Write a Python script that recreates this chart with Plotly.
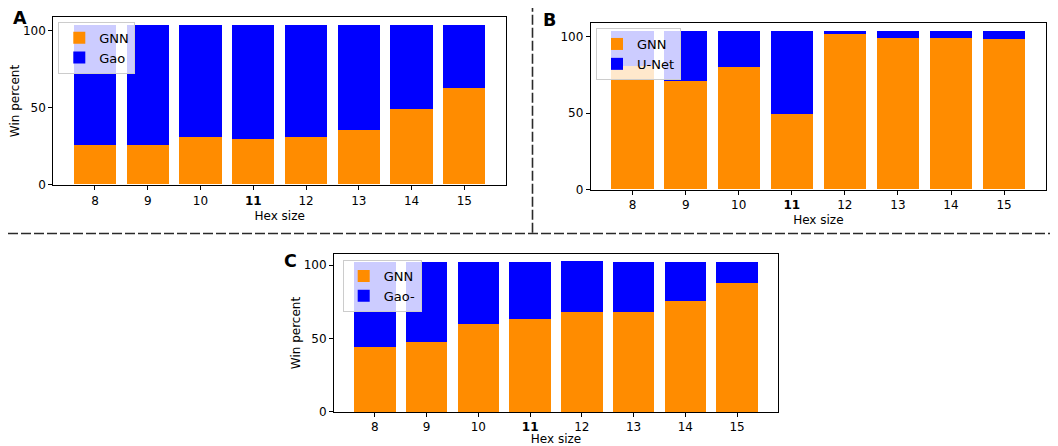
import plotly.graph_objects as go

hex_sizes = [8, 9, 10, 11, 12, 13, 14, 15]
tick_labels = ["8", "9", "10", "<b>11</b>", "12", "13", "14", "15"]

a_gnn = [25.4, 25.4, 30.9, 29.4, 30.9, 35.2, 48.9, 62.6]
a_gao = [78.5, 78.5, 73.0, 74.5, 73.0, 68.7, 55.0, 41.3]

b_gnn = [80.7, 70.9, 80.1, 49.3, 101.9, 99.1, 99.1, 98.4]
b_unet = [23.1, 32.9, 23.7, 54.5, 1.9, 4.7, 4.7, 5.4]

c_gnn = [44.1, 47.5, 59.8, 63.2, 67.9, 67.9, 75.5, 87.7]
c_gao = [57.9, 54.5, 42.2, 38.8, 34.8, 34.1, 26.5, 14.3]

ORANGE = "#FF8C00"
BLUE = "#0000FF"
FONT = "DejaVu Sans"

# The page body has an 8px margin, so the figure is sized to the visible
# area and page-pixel positions are converted to figure fractions.
OX, OY = 8, 8
W, H = 1058 - OX, 446 - OY


def fx(px):
    return (px - OX) / W


def fy(py):
    return 1 - (py - OY) / H


fig = go.Figure()

panels = [
    ("", a_gnn, a_gao, "Gao", "legend", (53.3, 506), (16.7, 185.3), [-0.6, 109.1], "Win percent", (58.3, 21.7)),
    ("2", b_gnn, b_unet, "U-Net", "legend2", (590.7, 1046), (22.7, 190), [-0.4, 109.1], None, (596, 28)),
    ("3", c_gnn, c_gao, "Gao-", "legend3", (334, 778), (254, 412), [-0.3, 107.6], "Win percent", (342.7, 260)),
]

layout_updates = {}
for suf, gnn, other, oname, leg, xd, yd, yr, ytitle, lpos in panels:
    xa = "x" + suf
    ya = "y" + suf
    fig.add_trace(go.Bar(x=hex_sizes, y=gnn, name="GNN", marker_color=ORANGE,
                         marker_line_width=0, width=0.8, xaxis=xa, yaxis=ya, legend=leg))
    fig.add_trace(go.Bar(x=hex_sizes, y=other, name=oname, marker_color=BLUE,
                         marker_line_width=0, width=0.8, xaxis=xa, yaxis=ya, legend=leg))
    layout_updates["xaxis" + suf] = dict(
        domain=[fx(xd[0]), fx(xd[1])], anchor=ya, range=[7.21, 15.79],
        automargin=False,
        tickmode="array", tickvals=hex_sizes, ticktext=tick_labels,
        ticks="outside", ticklen=4, tickwidth=1, tickcolor="black",
        showline=True, linecolor="black", linewidth=1, mirror=True,
        showgrid=False, zeroline=False,
        tickfont=dict(family=FONT, size=12, color="black"),
        title=dict(text="Hex size", font=dict(family=FONT, size=12, color="black"), standoff=4),
    )
    layout_updates["yaxis" + suf] = dict(
        domain=[fy(yd[1]), fy(yd[0])], anchor=xa, range=yr,
        automargin=False,
        tickmode="array", tickvals=[0, 50, 100],
        ticks="outside", ticklen=4, tickwidth=1, tickcolor="black",
        showline=True, linecolor="black", linewidth=1, mirror=True,
        showgrid=False, zeroline=False,
        tickfont=dict(family=FONT, size=12, color="black"),
        title=dict(text=ytitle, font=dict(family=FONT, size=12, color="black"), standoff=0) if ytitle else None,
    )
    layout_updates[leg] = dict(
        x=fx(lpos[0]), y=fy(lpos[1]), xanchor="left", yanchor="top",
        xref="paper", yref="paper",
        bgcolor="rgba(255,255,255,0.8)", bordercolor="#cccccc", borderwidth=1,
        font=dict(family=FONT, size=13, color="black"), traceorder="normal",
        itemwidth=30, tracegroupgap=0,
    )

fig.update_layout(**layout_updates)
fig.update_layout(
    width=W, height=H, margin=dict(l=0, r=0, t=0, b=0, pad=0, autoexpand=False),
    barmode="stack", plot_bgcolor="white", paper_bgcolor="white",
    showlegend=True,
    font=dict(family=FONT, size=12, color="black"),
)

for txt, x, y in [("A", 10.5, 18.2), ("B", 541, 20.0), ("C", 282, 261.3)]:
    fig.add_annotation(text="<b>%s</b>" % txt, x=fx(x), y=fy(y), xref="paper", yref="paper",
                       xanchor="left", yanchor="middle", showarrow=False,
                       font=dict(family=FONT, size=17.5, color="black"))

fig.add_shape(type="line", xref="paper", yref="paper",
              x0=fx(532.5), x1=fx(532.5), y0=fy(232.7), y1=1.0,
              line=dict(color="#2a2a2a", width=1.6, dash="10px,3px"))
fig.add_shape(type="line", xref="paper", yref="paper",
              x0=0, x1=1.0, y0=fy(233.5), y1=fy(233.5),
              line=dict(color="#2a2a2a", width=1.6, dash="10px,3px"))

fig.write_html("out.html")
